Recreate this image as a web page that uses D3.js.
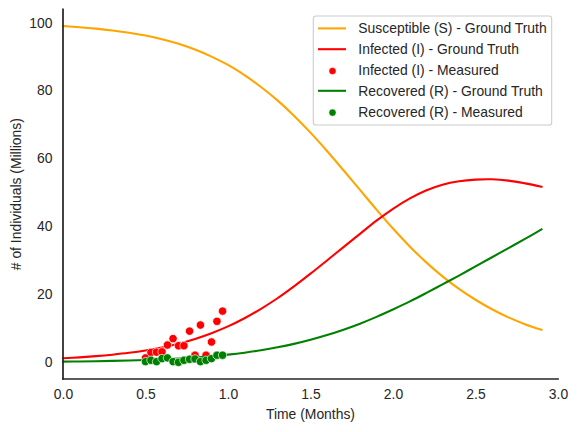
<!DOCTYPE html>
<html>
<head>
<meta charset="utf-8">
<script src="https://cdn.jsdelivr.net/npm/d3@7"></script>
<style>
  html, body { margin: 0; padding: 0; background: #fff; }
  svg { display: block; font-family: "Liberation Sans", Arial, sans-serif; }
</style>
</head>
<body>
<svg id="chart" width="578" height="432"></svg>
<script>
// ---- Data ----
const time = [0.0,0.1,0.2,0.3,0.4,0.5,0.6,0.7,0.8,0.9,1.0,1.1,1.2,1.3,1.4,1.5,1.6,1.7,1.8,1.9,2.0,2.1,2.2,2.3,2.4,2.5,2.6,2.7,2.8,2.9];
const susceptible = [99.0,98.67,98.25,97.72,97.06,96.21,95.12,93.78,92.08,90.0,87.53,84.55,81.04,77.08,72.56,67.56,62.16,56.46,50.66,44.86,39.26,34.06,29.36,25.16,21.46,18.26,15.46,13.06,11.06,9.4];
const infected = [1.0,1.27,1.62,2.06,2.6,3.3,4.2,5.3,6.7,8.4,10.4,12.8,15.6,18.7,22.2,25.95,29.85,33.8,37.7,41.6,45.1,48.1,50.5,52.2,53.2,53.7,53.8,53.4,52.6,51.6];
const recovered = [0,0.06,0.13,0.22,0.34,0.49,0.68,0.92,1.22,1.6,2.07,2.65,3.36,4.22,5.24,6.45,7.85,9.44,11.2,13.2,15.4,17.7,20.2,22.8,25.4,28.1,30.8,33.5,36.2,39.0];

const measTime = [0.5,0.533,0.567,0.6,0.633,0.667,0.7,0.733,0.767,0.8,0.833,0.867,0.9,0.933,0.967];
const infectedMeasured = [1.1,2.7,2.8,2.9,4.9,6.8,4.7,4.7,9.0,1.9,10.8,1.9,5.8,11.9,14.9];
const recoveredMeasured = [0.0,0.4,0.0,0.9,1.1,0.0,-0.2,0.4,0.7,0.8,0.0,0.4,0.9,1.9,1.9];

const xTicks = [0.0,0.5,1.0,1.5,2.0,2.5,3.0];
const yTicks = [0,20,40,60,80,100];

const legendLabels = [
  "Susceptible (S) - Ground Truth",
  "Infected (I) - Ground Truth",
  "Infected (I) - Measured",
  "Recovered (R) - Ground Truth",
  "Recovered (R) - Measured"
];

// ---- Layout ----
const svg = d3.select("#chart");
const L = 63, R = 558, T = 9.3, B = 379;
const ink = "#262626";
const fs = 13.9;

const x = d3.scaleLinear().domain([0, 3]).range([L, R]);
const y = d3.scaleLinear().domain([-5.12, 103.95]).range([B, T]);

// lines
const line = d3.line().x(d => x(d[0])).y(d => y(d[1])).curve(d3.curveCatmullRom.alpha(0.5));
function drawLine(vals, color) {
  svg.append("path")
    .datum(time.map((t, i) => [t, vals[i]]))
    .attr("fill", "none").attr("stroke", color)
    .attr("stroke-width", 2.08).attr("stroke-linejoin", "round").attr("stroke-linecap", "square")
    .attr("d", line);
}
function drawDots(vals, color) {
  svg.append("g").selectAll("circle")
    .data(measTime.map((t, i) => [t, vals[i]]))
    .join("circle")
    .attr("cx", d => x(d[0])).attr("cy", d => y(d[1]))
    .attr("r", 4.17).attr("fill", color)
    .attr("stroke", "#fff").attr("stroke-width", 0.67);
}

drawLine(susceptible, "#FFA500");
drawLine(infected, "#FF0000");
drawDots(infectedMeasured, "#FF0000");
drawLine(recovered, "#008000");
drawDots(recoveredMeasured, "#008000");

// axes (seaborn white, despined, no tick marks)
const xAxis = d3.axisBottom(x).tickValues(xTicks).tickFormat(d3.format(".1f")).tickSize(0).tickPadding(9.7);
const gx = svg.append("g").attr("transform", `translate(0,${B})`).call(xAxis);
const yAxis = d3.axisLeft(y).tickValues(yTicks).tickFormat(d3.format("d")).tickSize(0).tickPadding(10.5);
const gy = svg.append("g").attr("transform", `translate(${L},0)`).call(yAxis);
[gx, gy].forEach(g => {
  g.select(".domain").remove();
  g.selectAll("text").attr("fill", ink).attr("font-size", fs)
    .attr("font-family", "'Liberation Sans', Arial, sans-serif");
});
svg.append("line").attr("x1", L).attr("x2", L).attr("y1", T).attr("y2", B)
  .attr("stroke", ink).attr("stroke-width", 1.74).attr("stroke-linecap", "square");
svg.append("line").attr("x1", L).attr("x2", R).attr("y1", B).attr("y2", B)
  .attr("stroke", ink).attr("stroke-width", 1.74).attr("stroke-linecap", "square");

// axis labels
svg.append("text").attr("x", (L + R) / 2).attr("y", 414).attr("text-anchor", "middle")
  .attr("dominant-baseline", "central").attr("font-size", fs).attr("fill", ink).text("Time (Months)");
svg.append("text").attr("transform", `translate(15.5,${(T + B) / 2}) rotate(-90)`)
  .attr("text-anchor", "middle").attr("dominant-baseline", "central")
  .attr("font-size", fs).attr("fill", ink).text("# of Individuals (Millions)");

// legend
const legendColors = ["#FFA500", "#FF0000", "#FF0000", "#008000", "#008000"];
const legendKinds = ["line", "line", "dot", "line", "dot"];
const lg = svg.append("g");
lg.append("rect").attr("x", 313.3).attr("y", 16).attr("width", 238.4).attr("height", 109)
  .attr("rx", 2.8).attr("fill", "#fff").attr("fill-opacity", 0.8)
  .attr("stroke", "#cccccc").attr("stroke-width", 1.1);
legendLabels.forEach((lab, i) => {
  const cy = 28.4 + i * 20.8;
  if (legendKinds[i] === "line") {
    lg.append("line").attr("x1", 318).attr("x2", 346).attr("y1", cy).attr("y2", cy)
      .attr("stroke", legendColors[i]).attr("stroke-width", 2.08);
  } else {
    lg.append("circle").attr("cx", 332.5).attr("cy", cy + 1).attr("r", 3.6)
      .attr("fill", legendColors[i]).attr("stroke", "#fff").attr("stroke-width", 0.5);
  }
  lg.append("text").attr("x", 358.3).attr("y", cy).attr("dominant-baseline", "central")
    .attr("font-size", fs).attr("fill", ink).text(lab);
});
</script>
</body>
</html>
